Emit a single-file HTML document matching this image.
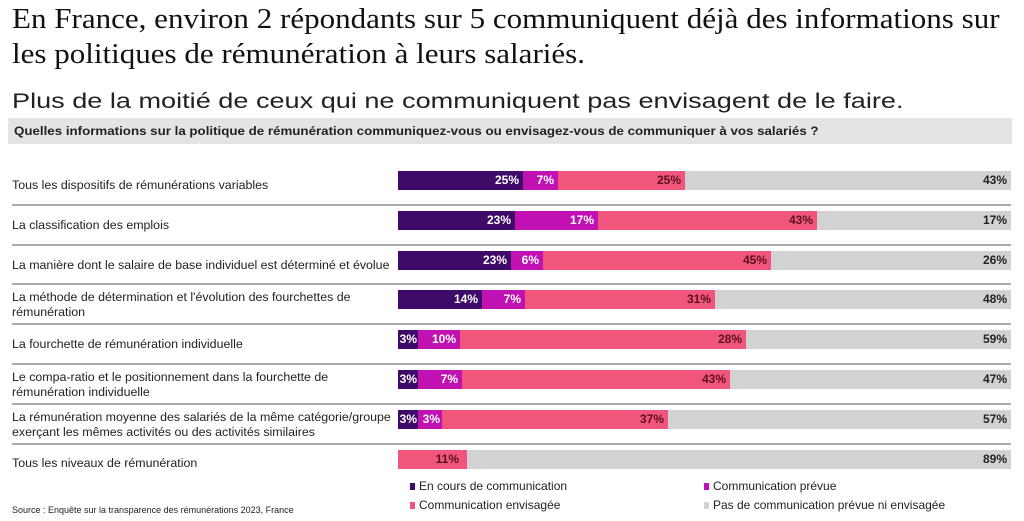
<!DOCTYPE html>
<html><head><meta charset="utf-8"><style>
body{margin:0;width:1024px;height:521px;background:#fff;position:relative;overflow:hidden;font-family:"Liberation Sans",sans-serif;color:#222}
.a{position:absolute;white-space:nowrap}
.t{font-family:"Liberation Serif",serif;font-size:29px;color:#111;line-height:34px;transform:scaleX(1.07);transform-origin:left top}
.seg{position:absolute;height:19px;font-size:12px;font-weight:bold;text-align:right;line-height:19px;box-sizing:border-box;padding-right:4px}
.d{background:#3e0b69;color:#fff}.m{background:#c111b2;color:#fff}.p{background:#f2557c;color:#5a1020}.g{background:#d2d2d2;color:#222}
.lab{position:absolute;left:12px;font-size:12.4px;line-height:15px;color:#222}
.sep{position:absolute;left:12px;width:999px;height:2px;background:#aaa}
.lg{position:absolute;font-size:12px}
.sq{display:inline-block;width:5px;height:7px;margin-right:4px}
</style></head><body>
<div class="a t" style="left:12px;top:2px">En France, environ 2 répondants sur 5 communiquent déjà des informations sur</div>
<div class="a t" style="left:12px;top:37px">les politiques de rémunération à leurs salariés.</div>
<div class="a" style="left:12px;top:90px;font-size:21px;transform:scaleX(1.29);transform-origin:left top">Plus de la moitié de ceux qui ne communiquent pas envisagent de le faire.</div>
<div class="a" style="left:8px;top:118px;width:1004px;height:26px;background:#e4e4e4"></div>
<div class="a" style="left:14px;top:124px;font-size:12px;font-weight:bold;transform:scaleX(1.11);transform-origin:left top">Quelles informations sur la politique de rémunération communiquez-vous ou envisagez-vous de communiquer à vos salariés ?</div>

<div class="lab" style="top:178px">Tous les dispositifs de rémunérations variables</div>
<div class="seg d" style="left:398px;top:171px;width:125px">25%</div><div class="seg m" style="left:523px;top:171px;width:35px">7%</div><div class="seg p" style="left:558px;top:171px;width:127px">25%</div><div class="seg g" style="left:685px;top:171px;width:326px">43%</div>
<div class="sep" style="top:204px"></div>

<div class="lab" style="top:218px">La classification des emplois</div>
<div class="seg d" style="left:398px;top:211px;width:117px">23%</div><div class="seg m" style="left:515px;top:211px;width:83px">17%</div><div class="seg p" style="left:598px;top:211px;width:219px">43%</div><div class="seg g" style="left:817px;top:211px;width:194px">17%</div>
<div class="sep" style="top:244px"></div>

<div class="lab" style="top:258px">La manière dont le salaire de base individuel est déterminé et évolue</div>
<div class="seg d" style="left:398px;top:251px;width:113px">23%</div><div class="seg m" style="left:511px;top:251px;width:32px">6%</div><div class="seg p" style="left:543px;top:251px;width:228px">45%</div><div class="seg g" style="left:771px;top:251px;width:240px">26%</div>
<div class="sep" style="top:283px"></div>

<div class="lab" style="top:290px">La méthode de détermination et l'évolution des fourchettes de<br>rémunération</div>
<div class="seg d" style="left:398px;top:290px;width:84px">14%</div><div class="seg m" style="left:482px;top:290px;width:43px">7%</div><div class="seg p" style="left:525px;top:290px;width:190px">31%</div><div class="seg g" style="left:715px;top:290px;width:296px">48%</div>
<div class="sep" style="top:323px"></div>

<div class="lab" style="top:337px">La fourchette de rémunération individuelle</div>
<div class="seg d" style="left:398px;top:330px;width:20px;padding-right:1px">3%</div><div class="seg m" style="left:418px;top:330px;width:42px">10%</div><div class="seg p" style="left:460px;top:330px;width:286px">28%</div><div class="seg g" style="left:746px;top:330px;width:265px">59%</div>
<div class="sep" style="top:363px"></div>

<div class="lab" style="top:370px">Le compa-ratio et le positionnement dans la fourchette de<br>rémunération individuelle</div>
<div class="seg d" style="left:398px;top:370px;width:20px;padding-right:1px">3%</div><div class="seg m" style="left:418px;top:370px;width:44px">7%</div><div class="seg p" style="left:462px;top:370px;width:268px">43%</div><div class="seg g" style="left:730px;top:370px;width:281px">47%</div>
<div class="sep" style="top:403px"></div>

<div class="lab" style="top:410px">La rémunération moyenne des salariés de la même catégorie/groupe<br>exerçant les mêmes activités ou des activités similaires</div>
<div class="seg d" style="left:398px;top:410px;width:20px;padding-right:1px">3%</div><div class="seg m" style="left:418px;top:410px;width:24px;padding-right:2px">3%</div><div class="seg p" style="left:442px;top:410px;width:226px">37%</div><div class="seg g" style="left:668px;top:410px;width:343px">57%</div>
<div class="sep" style="top:443px"></div>

<div class="lab" style="top:456px">Tous les niveaux de rémunération</div>
<div class="seg p" style="left:398px;top:450px;width:69px;padding-right:8px">11%</div><div class="seg g" style="left:467px;top:450px;width:544px">89%</div>

<div class="lg" style="left:410px;top:479px"><span class="sq" style="background:#3e0b69"></span>En cours de communication</div>
<div class="lg" style="left:704px;top:479px"><span class="sq" style="background:#c111b2"></span>Communication prévue</div>
<div class="lg" style="left:410px;top:498px"><span class="sq" style="background:#f2557c"></span>Communication envisagée</div>
<div class="lg" style="left:704px;top:498px"><span class="sq" style="background:#d2d2d2"></span>Pas de communication prévue ni envisagée</div>
<div class="a" style="left:12px;top:505px;font-size:9px">Source : Enquête sur la transparence des rémunérations 2023, France</div>
</body></html>
